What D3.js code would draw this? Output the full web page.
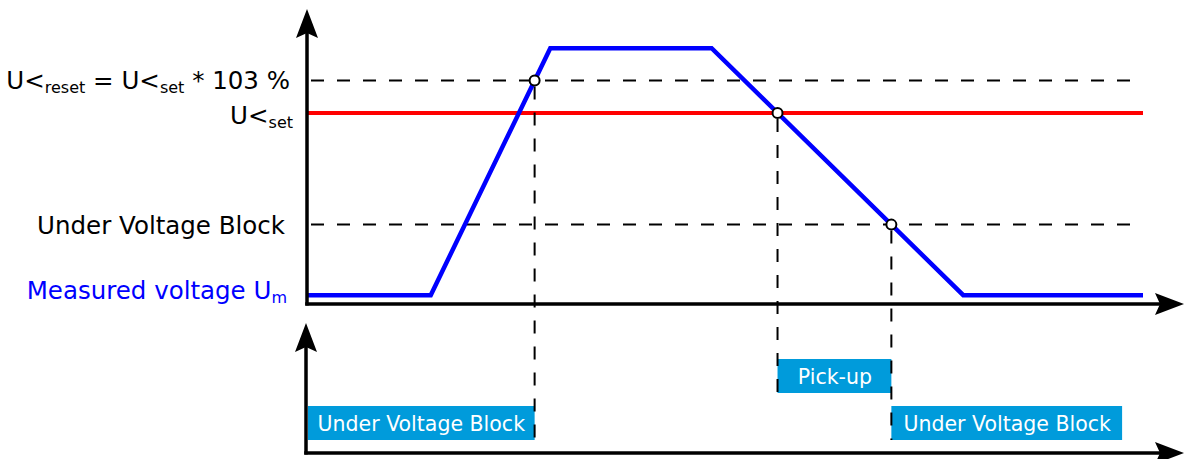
<!DOCTYPE html>
<html>
<head>
<meta charset="utf-8">
<script src="https://cdn.jsdelivr.net/npm/d3@7"></script>
<style>
  html, body { margin: 0; padding: 0; background: #fff; }
  svg { display: block; font-family: "DejaVu Sans", sans-serif; }
</style>
</head>
<body>
<svg id="chart" width="1191" height="459"></svg>
<script>
// ---- data ----
const times = [0, 14.8, 29.1, 48.4, 78.5, 100];      // time (arbitrary units)
const voltages = [3, 3, 87, 87, 3, 3];               // measured voltage Um (arbitrary units)
const levelNames = ["reset", "set", "block"];
const levelValues = [76, 65, 27];                    // U<reset, U<set, Under Voltage Block
const stateNames = ["Pick-up", "Under Voltage Block"];
const blockEndTime = 97.5;                           // end of last drawn state bar

const svg = d3.select("#chart");
const x = d3.scaleLinear().domain([0, 100]).range([307, 1143]);
const y = d3.scaleLinear().domain([0, 100]).range([304, 10]);
const yState = d3.scaleBand().domain(stateNames).range([346, 453]).paddingInner(13 / 47).paddingOuter(13 / 47);

const pts = times.map((t, i) => ({ t, v: voltages[i] }));

// crossing time of the measured curve with a level, on rising (dir=1) or falling (dir=-1) edge
function crossing(level, dir) {
  for (let i = 0; i < pts.length - 1; i++) {
    const a = pts[i], b = pts[i + 1];
    if (dir > 0 && a.v < level && b.v >= level) return a.t + (level - a.v) / (b.v - a.v) * (b.t - a.t);
    if (dir < 0 && a.v > level && b.v <= level) return a.t + (level - a.v) / (b.v - a.v) * (b.t - a.t);
  }
  return null;
}
const lv = Object.fromEntries(levelNames.map((n, i) => [n, levelValues[i]]));
const tReset = crossing(lv.reset, 1);
const tSet = crossing(lv.set, -1);
const tBlock = crossing(lv.block, -1);

const segments = [
  { state: "Under Voltage Block", from: 0, to: tReset },
  { state: "Pick-up", from: tSet, to: tBlock },
  { state: "Under Voltage Block", from: tBlock, to: blockEndTime }
];

// arrowhead path (pointing up, tip at 0,0)
function arrowPath(cx, cy, angle) {
  const p = [[0, 0], [-11, 29], [0, 24], [11, 29]];
  const r = angle * Math.PI / 180;
  const rot = p.map(([px, py]) => [cx + px * Math.cos(r) - py * Math.sin(r), cy + px * Math.sin(r) + py * Math.cos(r)]);
  return "M" + rot.map(q => q.join(",")).join("L") + "Z";
}

// ---- dashed reference lines ----
svg.selectAll("line.ref").data(["reset", "block"]).enter().append("line")
  .attr("x1", x(0)).attr("x2", x(99.4))
  .attr("y1", d => y(lv[d])).attr("y2", d => y(lv[d]))
  .attr("stroke", "#000").attr("stroke-width", 2).attr("stroke-dasharray", "13,13")
  .attr("stroke-dashoffset", -4);

// set line (red)
svg.append("line")
  .attr("x1", x(0)).attr("x2", x(100))
  .attr("y1", y(lv.set)).attr("y2", y(lv.set))
  .attr("stroke", "#ff0000").attr("stroke-width", 4);

// ---- state bars ----
const bars = svg.append("g");
bars.selectAll("rect").data(segments).enter().append("rect")
  .attr("x", d => x(d.from) + (d.from === 0 ? 1 : 0))
  .attr("width", d => x(d.to) - x(d.from) - (d.from === 0 ? 1 : 0))
  .attr("y", d => yState(d.state))
  .attr("height", yState.bandwidth())
  .attr("fill", "#009bdb");
bars.selectAll("text").data(segments).enter().append("text")
  .attr("x", d => (x(d.from) + x(d.to)) / 2 + 0.5)
  .attr("y", d => yState(d.state) + yState.bandwidth() / 2 + 7.5)
  .attr("text-anchor", "middle")
  .attr("fill", "#fff")
  .attr("font-size", 20.5)
  .text(d => d.state);

// ---- vertical dashed projections ----
const drops = [
  { t: tReset, v: lv.reset, state: "Under Voltage Block" },
  { t: tSet, v: lv.set, state: "Pick-up" },
  { t: tBlock, v: lv.block, state: "Under Voltage Block" }
];
svg.selectAll("line.drop").data(drops).enter().append("line")
  .attr("x1", d => x(d.t)).attr("x2", d => x(d.t))
  .attr("y1", d => y(d.v)).attr("y2", d => yState(d.state) + yState.bandwidth())
  .attr("stroke", "#000").attr("stroke-width", 2).attr("stroke-dasharray", "13,13")
  .attr("stroke-dashoffset", -6);

// ---- measured voltage curve ----
svg.append("path")
  .datum(pts)
  .attr("d", d3.line().x(d => x(d.t)).y(d => y(d.v)))
  .attr("fill", "none").attr("stroke", "#0000ff").attr("stroke-width", 4.5)
  .attr("stroke-linejoin", "miter");

// ---- axes ----
const axisG = svg.append("g");
// top panel
axisG.append("line").attr("x1", x(0)).attr("x2", x(0)).attr("y1", 20).attr("y2", y(0) + 1.5)
  .attr("stroke", "#000").attr("stroke-width", 3.5);
axisG.append("line").attr("x1", x(0) - 1.75).attr("x2", 1170).attr("y1", y(0)).attr("y2", y(0))
  .attr("stroke", "#000").attr("stroke-width", 3.5);
axisG.append("path").attr("d", arrowPath(x(0), 9, 0)).attr("fill", "#000");
axisG.append("path").attr("d", arrowPath(1184, y(0), 90)).attr("fill", "#000");
// bottom panel
const bx = x(0) - 1, by = 453;
axisG.append("line").attr("x1", bx).attr("x2", bx).attr("y1", 335).attr("y2", by + 1.5)
  .attr("stroke", "#000").attr("stroke-width", 3.5);
axisG.append("line").attr("x1", bx - 1.75).attr("x2", 1170).attr("y1", by).attr("y2", by)
  .attr("stroke", "#000").attr("stroke-width", 3.5);
axisG.append("path").attr("d", arrowPath(bx, 323, 0)).attr("fill", "#000");
axisG.append("path").attr("d", arrowPath(1184, by, 90)).attr("fill", "#000");

// ---- crossing markers ----
svg.selectAll("circle.mark").data(drops).enter().append("circle")
  .attr("cx", d => x(d.t)).attr("cy", d => y(d.v)).attr("r", 5)
  .attr("fill", "#fff").attr("stroke", "#000").attr("stroke-width", 2);

// ---- left labels ----
function label(parts, xr, yb, color) {
  const t = svg.append("text").attr("x", xr).attr("y", yb).attr("text-anchor", "end")
    .attr("fill", color).attr("font-size", 24.5);
  let shifted = false;
  parts.forEach(([txt, sub]) => {
    const ts = t.append("tspan").text(txt);
    if (sub && !shifted) { ts.attr("font-size", 16).attr("dy", 4); shifted = true; }
    else if (sub) { ts.attr("font-size", 16); }
    else if (shifted) { ts.attr("dy", -4); shifted = false; }
  });
}
label([["U<"], ["reset", true], ["\u00a0= U<"], ["set", true], ["\u00a0* 103 %"]], 290, y(lv.reset) + 8, "#000");
label([["U<"], ["set", true]], 293, y(lv.set) + 11, "#000");
label([["Under Voltage Block"]], 285, y(lv.block) + 9, "#000");
label([["Measured voltage U"], ["m", true]], 287, y(voltages[0]) + 4, "#0000ff");
</script>
</body>
</html>
